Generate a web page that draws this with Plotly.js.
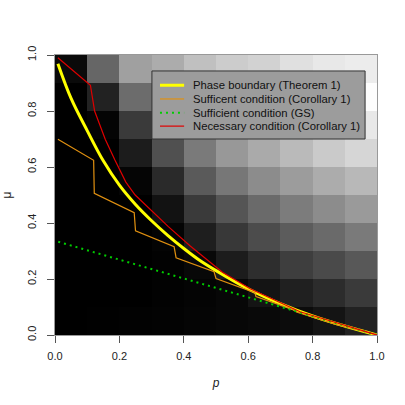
<!doctype html>
<html><head><meta charset="utf-8" />
<script src="https://cdn.plot.ly/plotly-3.0.1.min.js"></script>
<style>
  body { margin:0; background:#fff; }
  #chart { width:405px; height:405px; }
</style></head>
<body>
<div id="chart"></div>
<script>
// grid cells: p and mu centres (0.1 wide)
const pCells = [0.05, 0.15, 0.25, 0.35, 0.45, 0.55, 0.65, 0.75, 0.85, 0.95];
const muCells = [0.05, 0.15, 0.25, 0.35, 0.45, 0.55, 0.65, 0.75, 0.85, 0.95];

// gray level per cell (0 black .. 255 white), bottom row first
const gray0 = [0, 1, 2, 3, 5, 7, 9, 12, 20, 34];
const gray1 = [0, 0, 0, 2, 4, 7, 20, 32, 44, 58];
const gray2 = [0, 0, 0, 2, 8, 28, 46, 62, 74, 88];
const gray3 = [0, 0, 0, 4, 30, 56, 76, 92, 106, 122];
const gray4 = [0, 0, 0, 18, 58, 85, 106, 124, 140, 154];
const gray5 = [0, 0, 5, 42, 90, 119, 140, 156, 172, 184];
const gray6 = [0, 0, 28, 80, 122, 152, 170, 186, 202, 214];
const gray7 = [0, 4, 58, 100, 135, 160, 180, 200, 215, 232];
const gray8 = [0, 34, 108, 140, 170, 190, 205, 220, 235, 253];
const gray9 = [10, 102, 160, 172, 192, 204, 210, 224, 232, 236];

// Phase boundary (Theorem 1)
const phaseP  = [0.009, 0.05, 0.10, 0.15, 0.20, 0.25, 0.30, 0.35, 0.40, 0.45, 0.50, 0.60, 0.70, 0.80, 0.90, 1.0];
const phaseMu = [0.969, 0.845, 0.730, 0.622, 0.535, 0.466, 0.408, 0.356, 0.309, 0.266, 0.230, 0.165, 0.112, 0.068, 0.032, 0.0];

// Sufficent condition (Corollary 1) – stepped
const sufP  = [0.009, 0.120, 0.122, 0.246, 0.250, 0.370, 0.376, 0.494, 0.500, 0.621, 0.624, 0.746, 0.750, 0.873, 0.875, 1.0];
const sufMu = [0.699, 0.624, 0.506, 0.437, 0.372, 0.315, 0.276, 0.226, 0.202, 0.151, 0.137, 0.088, 0.082, 0.039, 0.037, 0.0];

// Sufficient condition (GS)
const gsP  = [0.01, 1.0];
const gsMu = [0.333, 0.0];

// Necessary condition (Corollary 1)
const necP  = [0.009, 0.110, 0.123, 0.156, 0.186, 0.220, 0.249, 0.352, 0.420, 0.520, 0.606, 0.761, 1.0];
const necMu = [0.990, 0.892, 0.800, 0.699, 0.625, 0.546, 0.500, 0.387, 0.318, 0.224, 0.165, 0.083, 0.0];

const legendNames = [
  'Phase boundary (Theorem 1)',
  'Sufficent condition (Corollary 1)',
  'Sufficient condition (GS)',
  'Necessary condition (Corollary 1)',
];

const FONT = 'Liberation Sans, Arial, Helvetica, sans-serif';
const LINES = [
  { color: '#ffff00', width: 3 },
  { color: '#e09010', width: 1.2 },
  { color: '#00cc00', width: 2, dash: '2px,4px' },
  { color: '#e00000', width: 1.2 },
];

const traces = [
  {
    type: 'heatmap', x: pCells, y: muCells,
    z: [gray0, gray1, gray2, gray3, gray4, gray5, gray6, gray7, gray8, gray9],
    zmin: 0, zmax: 255, colorscale: [[0, '#000000'], [1, '#ffffff']],
    showscale: false, hoverinfo: 'skip',
  },
  { type: 'scatter', mode: 'lines', x: phaseP, y: phaseMu, line: { ...LINES[0], shape: 'spline', smoothing: 1 } },
  { type: 'scatter', mode: 'lines', x: sufP, y: sufMu, line: LINES[1] },
  { type: 'scatter', mode: 'lines', x: gsP, y: gsMu, line: LINES[2] },
  { type: 'scatter', mode: 'lines', x: necP, y: necMu, line: LINES[3] },
];

// hand-made legend box (R style, tight rows)
const LX0 = 0.301, LX1 = 0.963, LY0 = 0.700, LY1 = 0.943;
const rowY = [0.892, 0.843, 0.794, 0.746];
const shapes = [
  { type: 'rect', xref: 'paper', yref: 'paper', x0: LX0, x1: LX1, y0: LY0, y1: LY1,
    fillcolor: '#9c9c9c', line: { color: '#333', width: 1 } },
];
const annotations = [];
legendNames.forEach((name, i) => {
  shapes.push({ type: 'line', xref: 'paper', yref: 'paper', x0: 0.326, x1: 0.401, y0: rowY[i], y1: rowY[i],
    line: { color: LINES[i].color, width: LINES[i].width, dash: LINES[i].dash || 'solid' } });
  annotations.push({ xref: 'paper', yref: 'paper', x: 0.421, y: rowY[i], text: name,
    xanchor: 'left', yanchor: 'middle', showarrow: false,
    font: { family: FONT, size: 11.3, color: '#111' } });
});

const axis = {
  range: [0, 1], showgrid: false, zeroline: false,
  tick0: 0, dtick: 0.2, tickformat: '.1f',
  ticks: 'outside', ticklen: 7, tickcolor: '#555', tickwidth: 1,
  showline: true, linecolor: '#999', linewidth: 1, mirror: true,
  tickfont: { family: FONT, size: 11, color: '#222' },
};

const layout = {
  width: 405, height: 405, showlegend: false,
  paper_bgcolor: '#ffffff', plot_bgcolor: '#000000',
  margin: { l: 55, r: 28, t: 55, b: 70 },
  font: { family: FONT, size: 11, color: '#222' },
  xaxis: { ...axis, ticklabelstandoff: 4,
    title: { text: '<i>p</i>', standoff: 17, font: { family: FONT, size: 12, color: '#222' } } },
  yaxis: { ...axis, tickangle: -90, ticklabelstandoff: 7,
    title: { text: 'μ', standoff: 13, font: { family: FONT, size: 12, color: '#222' } } },
  shapes, annotations,
};

Plotly.newPlot('chart', traces, layout, { displayModeBar: false, staticPlot: true });
</script>
</body></html>
